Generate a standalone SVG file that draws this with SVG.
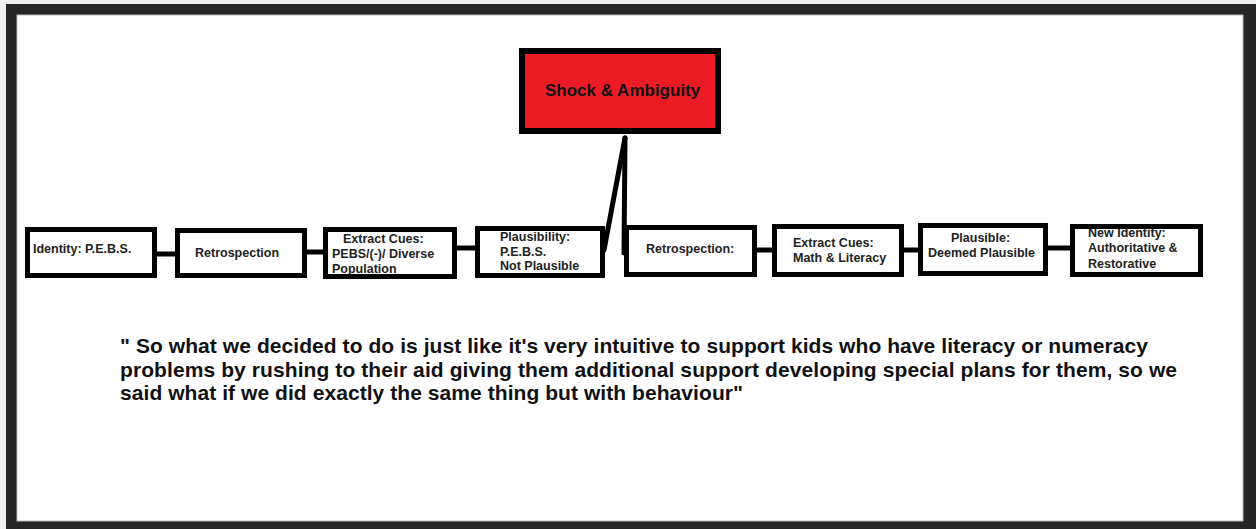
<svg xmlns="http://www.w3.org/2000/svg" width="1256" height="529" viewBox="0 0 1256 529">
<style>
.box{fill:#fff;stroke:#000;stroke-width:5}
.t{font-family:"Liberation Sans",Arial,sans-serif;font-weight:bold;font-size:12.5px;fill:#222}
.c{stroke:#000;stroke-width:5;fill:none}
.q{font-family:"Liberation Sans",Arial,sans-serif;font-weight:bold;font-size:21px;fill:#111}
</style>
<rect x="0" y="0" width="1256" height="529" fill="#f0f0f0"/>
<path d="M6,4H1256V529H6Z M17,15V521H1243V15Z" fill="#262626" fill-rule="evenodd"/>
<rect x="17" y="15" width="1226" height="506" fill="#fff" stroke="#bbb" stroke-width="1"/>
<g id="connectors">
<path class="c" d="M155,254H177"/>
<path class="c" d="M305,252H325"/>
<path class="c" d="M455,248H477"/>
<path class="c" d="M755,250H774"/>
<path class="c" d="M902,250H920"/>
<path class="c" d="M1046,248H1072"/>
<path class="c" d="M625,138L604,250" stroke-linecap="round"/>
<path class="c" d="M625,138L624,253" stroke-linecap="round"/>
</g>
<g id="shock">
<rect x="522" y="51" width="196" height="80" fill="#ED1C24" stroke="#000" stroke-width="6"/>
<text x="545" y="96" style="font-family:'Liberation Sans',Arial,sans-serif;font-weight:bold;font-size:17px;fill:#111">Shock &amp; Ambiguity</text>
</g>
<g id="n1">
<rect class="box" x="27.5" y="229.5" width="127" height="46"/>
<text class="t" x="33" y="253">Identity: P.E.B.S.</text>
</g>
<g id="n2">
<rect class="box" x="177.5" y="230.5" width="127" height="45"/>
<text class="t" x="195" y="257">Retrospection</text>
</g>
<g id="n3">
<rect class="box" x="325.5" y="229.5" width="129" height="47"/>
<text class="t" x="343" y="243">Extract Cues:</text>
<text class="t" x="332" y="258">PEBS/(-)/ Diverse</text>
<text class="t" x="332" y="273">Population</text>
<rect x="323" y="274" width="134" height="5" fill="#000"/>
</g>
<g id="n4">
<rect class="box" x="477.5" y="228.5" width="125" height="47"/>
<text class="t" x="500" y="241">Plausibility:</text>
<text class="t" x="500" y="256">P.E.B.S.</text>
<text class="t" x="500" y="270">Not Plausible</text>
</g>
<g id="n5">
<rect class="box" x="626.5" y="227.5" width="128" height="47"/>
<text class="t" x="646" y="253">Retrospection:</text>
</g>
<g id="n6">
<rect class="box" x="774.5" y="226.5" width="127" height="48"/>
<text class="t" x="793" y="247">Extract Cues:</text>
<text class="t" x="793" y="262">Math &amp; Literacy</text>
</g>
<g id="n7">
<rect class="box" x="920.5" y="225.5" width="125" height="48"/>
<text class="t" x="951" y="242">Plausible:</text>
<text class="t" x="928" y="257">Deemed Plausible</text>
</g>
<g id="n8">
<rect class="box" x="1072.5" y="226.5" width="128" height="48"/>
<text class="t" x="1088" y="237">New Identity:</text>
<text class="t" x="1088" y="252">Authoritative &amp;</text>
<text class="t" x="1088" y="268">Restorative</text>
<rect x="1070" y="224" width="133" height="5" fill="#000"/>
</g>
<g id="quote">
<text class="q" x="120" y="353" textLength="1028">" So what we decided to do is just like it's very intuitive to support kids who have literacy or numeracy</text>
<text class="q" x="120" y="377" textLength="1057">problems by rushing to their aid giving them additional support developing special plans for them, so we</text>
<text class="q" x="120" y="400" textLength="623">said what if we did exactly the same thing but with behaviour"</text>
</g>
</svg>
